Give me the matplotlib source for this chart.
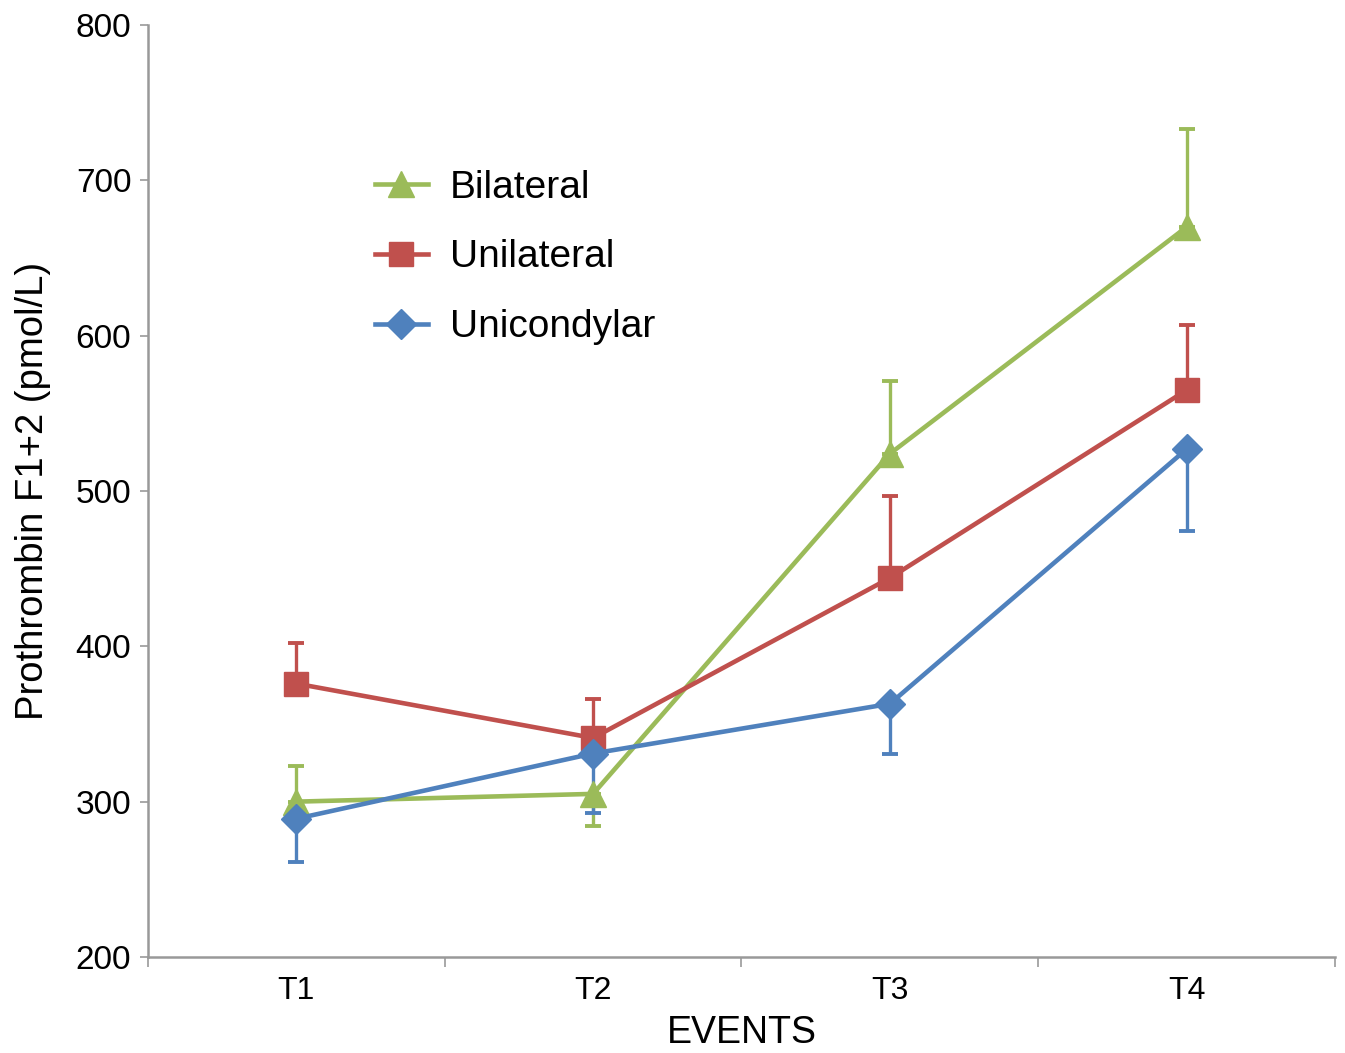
import numpy as np
import matplotlib.pyplot as plt

events = ["T1", "T2", "T3", "T4"]

bilateral = [300, 305, 524, 670]
bilateral_lo = [0, 21, 0, 0]
bilateral_hi = [23, 0, 47, 63]

unilateral = [376, 341, 444, 565]
unilateral_lo = [0, 0, 0, 0]
unilateral_hi = [26, 25, 53, 42]

unicondylar = [289, 331, 363, 527]
unicondylar_lo = [28, 38, 32, 53]
unicondylar_hi = [0, 0, 0, 0]

plt.rcParams['font.family'] = ['Liberation Sans', 'DejaVu Sans']

fig = plt.figure(figsize=(13.45, 10.53), dpi=100)
ax = fig.add_axes([0.110, 0.0912, 0.8826, 0.8850])

x = np.arange(len(events))
series = [
    ("Bilateral", bilateral, bilateral_lo, bilateral_hi, "#9BBB59", "^", 19),
    ("Unilateral", unilateral, unilateral_lo, unilateral_hi, "#C0504D", "s", 17),
    ("Unicondylar", unicondylar, unicondylar_lo, unicondylar_hi, "#4F81BD", "D", 15),
]

for name, vals, lo, hi, col, mk, ms in series:
    ax.errorbar(x, vals, yerr=[lo, hi], fmt="none", ecolor=col, elinewidth=2.4,
                capsize=6, capthick=2.8, zorder=2)
    ax.plot(x, vals, color=col, lw=3.3, marker=mk, markersize=ms, label=name, zorder=3)

ax.set_xlim(-0.5, 3.5)
ax.set_ylim(200, 800)
ax.set_yticks([200, 300, 400, 500, 600, 700, 800])
ax.set_xticks(x)
ax.set_xticklabels(events)
ax.set_xticks(np.arange(-0.5, 4, 1), minor=True)
ax.tick_params(axis="x", which="major", length=0, labelsize=23, pad=14)
ax.tick_params(axis="x", which="minor", length=7, width=1.2, color="#999999")
ax.tick_params(axis="y", length=6, width=1.2, color="#999999", labelsize=24, pad=6)

for s in ["top", "right"]:
    ax.spines[s].set_visible(False)
for s in ["left", "bottom"]:
    ax.spines[s].set_color("#999999")
    ax.spines[s].set_linewidth(1.8)

ax.set_ylabel("Prothrombin F1+2 (pmol/L)", fontsize=27.5, labelpad=18)
ax.set_xlabel("EVENTS", fontsize=27, labelpad=6)

leg = ax.legend(loc="upper left", bbox_to_anchor=(0.191, 0.845), frameon=False,
                borderpad=0, borderaxespad=0, fontsize=28, labelspacing=0.87,
                handlelength=1.36, handletextpad=0.57)

fig.savefig("out.png", dpi=100)
